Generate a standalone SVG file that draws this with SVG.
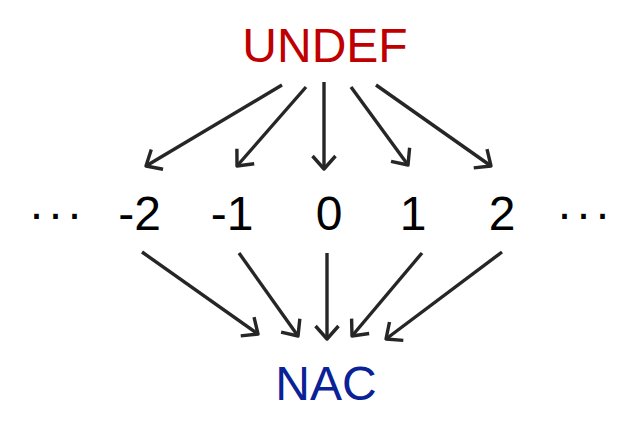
<svg xmlns="http://www.w3.org/2000/svg" width="640" height="444" viewBox="0 0 640 444">
<style>
.t{font-family:"Liberation Sans",Arial,sans-serif;font-size:48px;fill:#000}
.c{stroke:#262626;stroke-width:3.4;fill:none;marker-end:url(#ah)}
</style>
<defs>
<marker id="ah" viewBox="0 0 20 28" refX="16" refY="14" markerWidth="20" markerHeight="28" markerUnits="userSpaceOnUse" orient="auto">
<path d="M3,2.5 L16,14 L3,25.5" fill="none" stroke="#262626" stroke-width="3.4" stroke-linejoin="round"/>
</marker>
</defs>
<rect width="640" height="444" fill="#fff"/>
<g id="undef"><text class="t" x="325" y="62" text-anchor="middle" style="fill:#c00000">UNDEF</text></g>
<g id="dots-left"><text class="t" x="57" y="230" text-anchor="middle" letter-spacing="3">···</text></g>
<g id="n-2"><text class="t" x="139.5" y="230" text-anchor="middle">-2</text></g>
<g id="n-1"><text class="t" x="232" y="230" text-anchor="middle">-1</text></g>
<g id="n0"><text class="t" x="329" y="230" text-anchor="middle">0</text></g>
<g id="n1"><text class="t" x="413" y="230" text-anchor="middle">1</text></g>
<g id="n2"><text class="t" x="502" y="230" text-anchor="middle">2</text></g>
<g id="dots-right"><text class="t" x="585" y="230" text-anchor="middle" letter-spacing="3">···</text></g>
<g id="nac"><text class="t" x="326" y="400" text-anchor="middle" style="fill:#0a2296">NAC</text></g>
<g id="connectors">
<line class="c" x1="282" y1="85" x2="146" y2="166"/>
<line class="c" x1="306" y1="87" x2="237" y2="166"/>
<line class="c" x1="324" y1="82" x2="324" y2="169"/>
<line class="c" x1="351" y1="87" x2="408" y2="165"/>
<line class="c" x1="376" y1="85" x2="491" y2="166"/>
<line class="c" x1="142" y1="252" x2="258" y2="334"/>
<line class="c" x1="239" y1="253" x2="298" y2="336"/>
<line class="c" x1="327" y1="253" x2="327" y2="339"/>
<line class="c" x1="422" y1="253" x2="352" y2="336"/>
<line class="c" x1="502" y1="252" x2="386" y2="339"/>
</g>
</svg>
